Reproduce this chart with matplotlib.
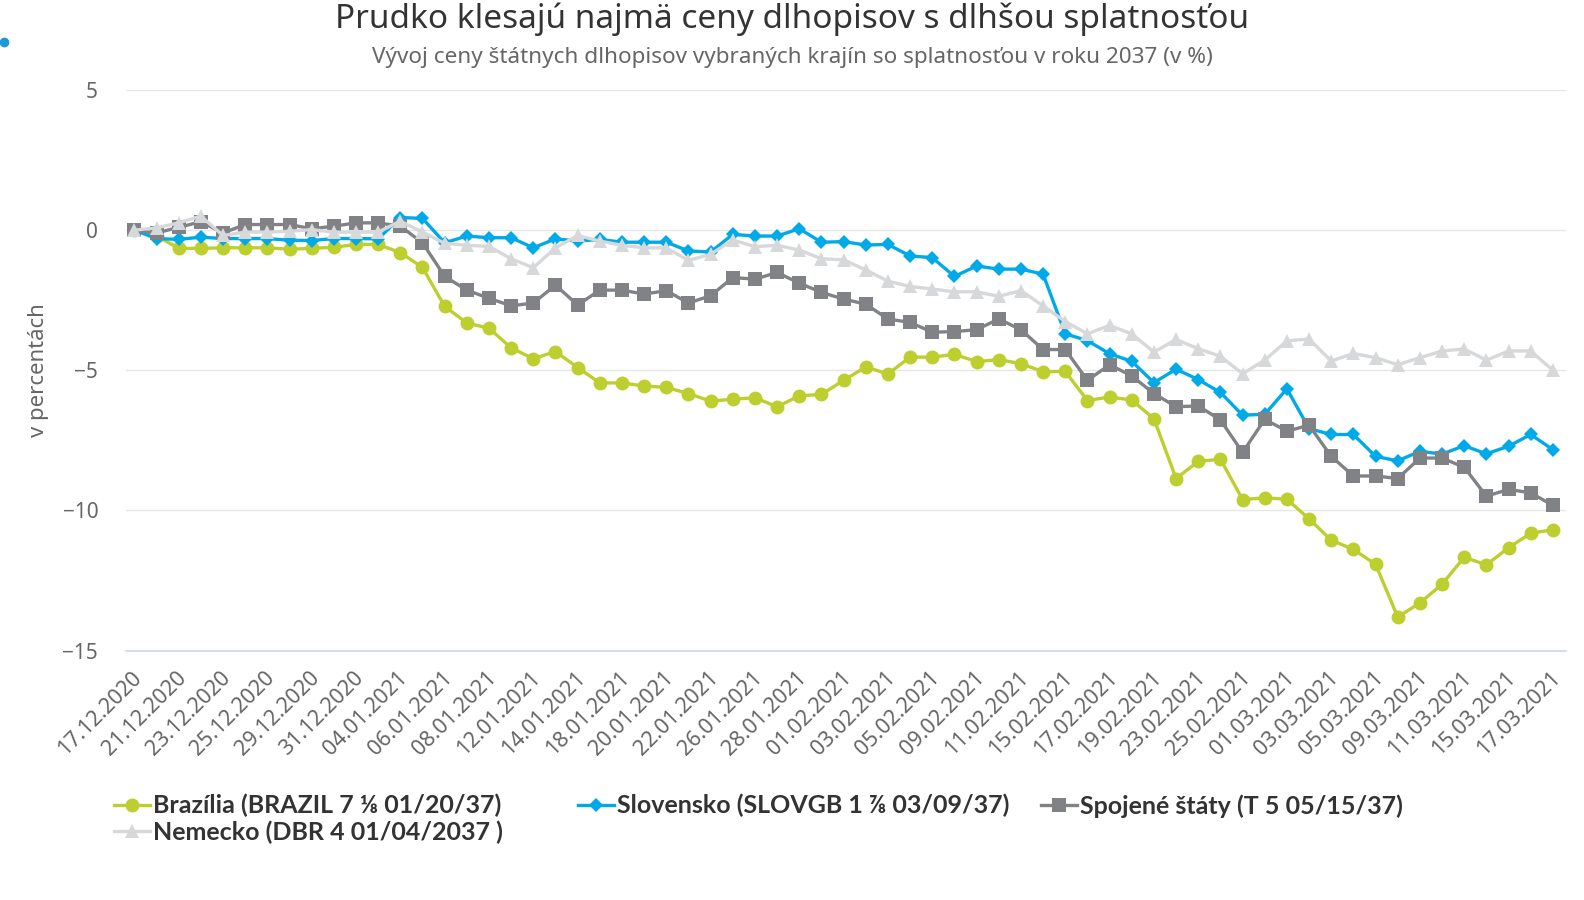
import pandas as pd
import matplotlib
matplotlib.use('Agg')
import matplotlib.pyplot as plt
from matplotlib.lines import Line2D
from matplotlib.transforms import ScaledTranslation

plt.rcParams['font.family'] = ['Noto Sans', 'DejaVu Sans']

# trading days 17.12.2020 - 17.03.2021
dates = pd.bdate_range('2020-12-17', '2021-03-17')
date_labels = [d.strftime('%d.%m.%Y') for d in dates]

brazil = [0, -0.2, -0.65, -0.65, -0.63, -0.63, -0.63, -0.68, -0.65, -0.61,
          -0.51, -0.51, -0.80, -1.33, -2.72, -3.31, -3.50, -4.20, -4.59, -4.33,
          -4.90, -5.45, -5.45, -5.56, -5.61, -5.83, -6.10, -6.03, -5.98, -6.30,
          -5.91, -5.86, -5.36, -4.88, -5.13, -4.53, -4.53, -4.43, -4.69, -4.62,
          -4.76, -5.05, -5.04, -6.08, -5.95, -6.06, -6.73, -8.86, -8.25, -8.17,
          -9.61, -9.55, -9.60, -10.30, -11.06, -11.39, -11.92, -13.80, -13.30, -12.63,
          -11.67, -11.94, -11.33, -10.81, -10.69]
slovensko = [0, -0.3, -0.33, -0.25, -0.3, -0.3, -0.3, -0.36, -0.37, -0.3,
             -0.3, -0.31, 0.45, 0.42, -0.45, -0.21, -0.27, -0.27, -0.63, -0.31,
             -0.39, -0.33, -0.43, -0.43, -0.43, -0.74, -0.78, -0.15, -0.21, -0.21,
             0.05, -0.43, -0.41, -0.53, -0.51, -0.92, -0.98, -1.65, -1.28, -1.39,
             -1.39, -1.57, -3.70, -3.94, -4.41, -4.68, -5.44, -4.96, -5.33, -5.79,
             -6.60, -6.57, -5.66, -7.08, -7.29, -7.29, -8.07, -8.23, -7.89, -7.99,
             -7.69, -7.98, -7.71, -7.29, -7.83]
spojene = [0, -0.1, 0.1, 0.3, -0.1, 0.2, 0.2, 0.2, 0.05, 0.14,
           0.26, 0.26, 0.14, -0.45, -1.65, -2.14, -2.43, -2.70, -2.60, -1.96,
           -2.67, -2.14, -2.14, -2.28, -2.16, -2.60, -2.34, -1.69, -1.75, -1.51,
           -1.89, -2.22, -2.46, -2.64, -3.17, -3.29, -3.64, -3.62, -3.55, -3.17,
           -3.55, -4.26, -4.26, -5.36, -4.80, -5.20, -5.83, -6.30, -6.27, -6.77,
           -7.93, -6.75, -7.17, -6.96, -8.07, -8.77, -8.77, -8.86, -8.13, -8.13,
           -8.46, -9.49, -9.25, -9.37, -9.82]
nemecko = [0, 0.08, 0.26, 0.5, -0.19, -0.07, -0.07, -0.04, 0.02, -0.07,
           -0.07, -0.07, 0.32, -0.07, -0.47, -0.54, -0.58, -1.02, -1.34, -0.63,
           -0.19, -0.39, -0.54, -0.63, -0.63, -1.08, -0.86, -0.35, -0.59, -0.54,
           -0.71, -1.02, -1.06, -1.42, -1.82, -2.01, -2.10, -2.20, -2.20, -2.36,
           -2.16, -2.70, -3.26, -3.70, -3.40, -3.70, -4.35, -3.90, -4.23, -4.50,
           -5.12, -4.64, -3.95, -3.88, -4.67, -4.40, -4.55, -4.80, -4.55, -4.31,
           -4.24, -4.64, -4.31, -4.31, -5.00]

names = ['Brazília (BRAZIL 7 ⅛ 01/20/37)', 'Slovensko (SLOVGB 1 ⅞ 03/09/37)',
         'Spojené štáty (T 5 05/15/37)', 'Nemecko (DBR 4 01/04/2037 )']
colors = ['#bccf2f', '#00aae8', '#808285', '#d7d8da']
markers = ['o', 'D', 's', '^']
msizes = [10, 7, 9.5, 9.5]

fig = plt.figure(figsize=(15.84, 9), dpi=100)
ax = fig.add_axes([0.0795, 0.2771, 0.9091, 0.6229])

x = list(range(len(dates)))
lines = []
for vals, name, c, m, ms in zip([brazil, slovensko, spojene, nemecko], names, colors, markers, msizes):
    ln, = ax.plot(x, vals, color=c, marker=m, markersize=ms, linewidth=2.4,
                  markeredgewidth=0, label=name)
    lines.append(ln)

ax.set_xlim(-0.38, 64.59)
ax.set_ylim(-15, 5)
ax.set_yticks([5, 0, -5, -10, -15])
ax.set_yticklabels(['5', '0', '−5', '−10', '−15'])
ax.grid(axis='y', color='#e6e6e6', linewidth=1)
ax.set_axisbelow(True)
for s in ['top', 'right', 'left']:
    ax.spines[s].set_visible(False)
ax.spines['bottom'].set_color('#ccd6eb')
ax.spines['bottom'].set_linewidth(1.2)

ax.set_xticks(x[::2])
ax.set_xticklabels(date_labels[::2], rotation=45, ha='right', va='top',
                   rotation_mode='anchor')
ax.tick_params(axis='x', length=0, pad=12, labelsize=15.5, labelcolor='#666666')
ax.tick_params(axis='y', length=0, pad=20, labelsize=15, labelcolor='#666666')
for lab in ax.get_xticklabels():
    lab.set_transform(lab.get_transform() + ScaledTranslation(-3 / 100, 0, fig.dpi_scale_trans))

ax.set_ylabel('v percentách', fontsize=16, color='#666666', va='center')
ax.yaxis.set_label_coords(-0.061, 0.5)

fig.text(0.5, 1 - 27.5 / 900, 'Prudko klesajú najmä ceny dlhopisov s dlhšou splatnosťou',
         ha='center', va='baseline', fontsize=24, color='#333333')
fig.text(0.5, 1 - 63 / 900,
         'Vývoj ceny štátnych dlhopisov vybraných krajín so splatnosťou v roku 2037 (v %)',
         ha='center', va='baseline', fontsize=16.2, color='#666666')

# small dot at top left
fig.add_artist(Line2D([4 / 1584], [1 - 42 / 900], marker='o', markersize=6,
                      color='#1f9ad6', transform=fig.transFigure))

# legend, three aligned columns
leg_kw = dict(frameon=False, handlelength=1.44, handletextpad=0.12,
              borderpad=0, borderaxespad=0, labelspacing=0.11, numpoints=1,
              labelcolor='#333333', loc='upper left',
              prop={'family': ['Lato', 'DejaVu Sans'], 'weight': 'bold', 'size': 18})
fig.legend([lines[0], lines[3]], [names[0], names[3]],
           bbox_to_anchor=(114 / 1584, 1 - 794 / 900), **leg_kw)
fig.legend([lines[1]], [names[1]], bbox_to_anchor=(578 / 1584, 1 - 794 / 900), **leg_kw)
fig.legend([lines[2]], [names[2]], bbox_to_anchor=(1041 / 1584, 1 - 794 / 900), **leg_kw)

fig.savefig('out.png', dpi=100)
